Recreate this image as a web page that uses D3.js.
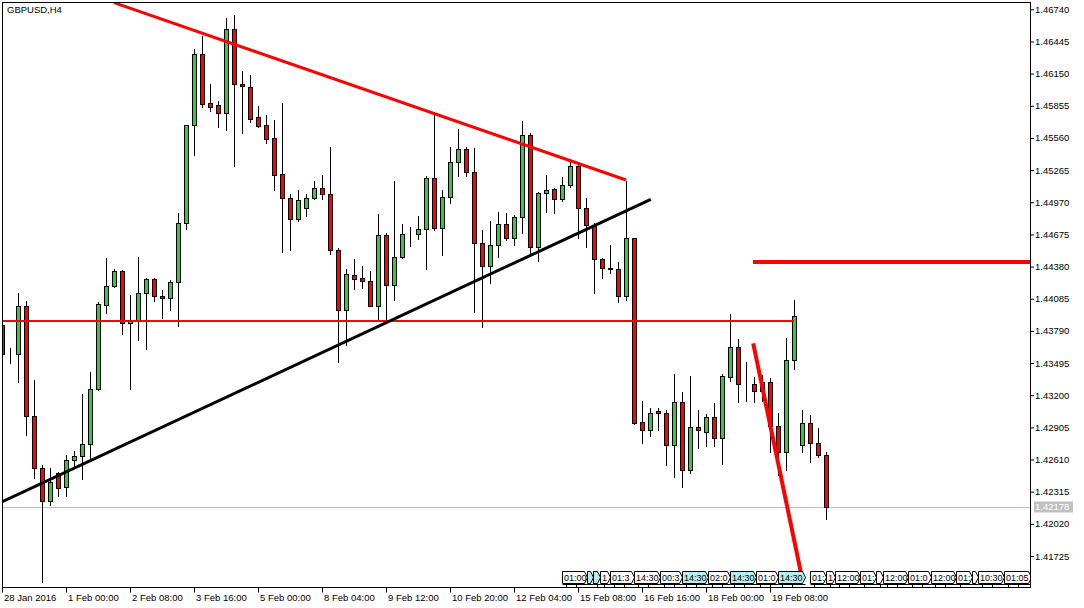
<!DOCTYPE html>
<html><head><meta charset="utf-8">
<script src="https://cdn.jsdelivr.net/npm/d3@7"></script>
<style>
html,body{margin:0;padding:0;background:#fff;overflow:hidden;}
svg{display:block;font-family:"Liberation Sans",Arial,sans-serif;}
</style></head><body>
<svg id="chart" width="1084" height="608"></svg>
<script>
// ---------------- DATA ----------------
const chartTitle = "GBPUSD,H4";
const opens = [1.43844,1.43575,1.43575,1.44016,1.43007,1.42535,1.42227,1.42484,1.42355,1.42603,
1.42640,1.42750,1.43254,1.44025,1.44199,1.44339,1.43860,1.43887,1.44135,1.44263,
1.44107,1.44089,1.44236,1.44777,1.45676,1.46327,1.45878,1.45859,1.45786,1.46557,
1.46052,1.46025,1.45749,1.45676,1.45557,1.45226,1.45006,1.44814,1.44915,1.45006,
1.45098,1.45043,1.44529,1.43979,1.44300,1.44272,1.44245,1.44016,1.44667,1.44208,
1.44465,1.44676,1.44676,1.44722,1.45190,1.44731,1.45016,1.45337,1.45456,1.45245,
1.44594,1.44383,1.44575,1.44768,1.44639,1.44832,1.45584,1.44557,1.45052,1.45089,
1.44997,1.45126,1.45300,1.44915,1.44759,1.44447,1.44364,1.44355,1.44107,1.44639,
1.42952,1.42878,1.43052,1.43034,1.42741,1.43135,1.42511,1.42906,1.42860,1.42997,
1.42805,1.43364,1.43640,1.43300,1.43300,1.43236,1.43319,1.42915,1.42676,1.43520,
1.42741,1.42942,1.42759,1.42649];
const highs = [1.43872,1.43630,1.44140,1.44064,1.43340,1.42557,1.42530,1.42496,1.42652,1.42686,
1.43211,1.43410,1.44052,1.44461,1.44361,1.44344,1.44117,1.44468,1.44278,1.44271,
1.44165,1.44257,1.44869,1.45679,1.46373,1.46495,1.46055,1.45899,1.46660,1.46688,
1.46174,1.46135,1.45850,1.45770,1.45725,1.45878,1.45043,1.45080,1.45043,1.45162,
1.45217,1.45474,1.44548,1.44355,1.44447,1.44383,1.44337,1.44860,1.44685,1.45162,
1.44768,1.44740,1.44841,1.45211,1.45798,1.45082,1.45477,1.45642,1.45477,1.45468,
1.44716,1.44798,1.44881,1.44872,1.44853,1.45715,1.45603,1.45060,1.45217,1.45098,
1.45199,1.45364,1.45337,1.45006,1.44777,1.44456,1.44575,1.44419,1.45168,1.44642,
1.43144,1.43080,1.43080,1.43062,1.43392,1.43227,1.43376,1.43062,1.43025,1.43126,
1.43392,1.43942,1.43713,1.43502,1.43364,1.43383,1.43355,1.43034,1.43722,1.44071,
1.43062,1.43016,1.42897,1.42676];
const lows = [1.43560,1.43498,1.43324,1.42838,1.42443,1.41489,1.42196,1.42278,1.42278,1.42544,
1.42429,1.42606,1.43248,1.43957,1.44190,1.43759,1.43260,1.43707,1.43627,1.44067,
1.43911,1.43982,1.43838,1.44722,1.45401,1.45847,1.45810,1.45663,1.45630,1.45300,
1.45608,1.45703,1.45658,1.45511,1.45080,1.44516,1.44535,1.44801,1.44847,1.45000,
1.44997,1.44493,1.43502,1.43658,1.44172,1.44181,1.44014,1.43896,1.43869,1.44071,
1.44459,1.44566,1.44630,1.44355,1.44711,1.44489,1.44966,1.45214,1.45214,1.43966,
1.43829,1.44232,1.44471,1.44621,1.44581,1.44691,1.44495,1.44434,1.44883,1.44874,
1.44984,1.45113,1.44639,1.44562,1.44135,1.44272,1.44318,1.44052,1.44071,1.42936,
1.42759,1.42829,1.42878,1.42557,1.42447,1.42355,1.42484,1.42713,1.42731,1.42731,
1.42566,1.43328,1.43135,1.43144,1.43135,1.43144,1.42676,1.42465,1.42511,1.43438,
1.42676,1.42585,1.42630,1.42062];
const closes = [1.43575,1.43577,1.44016,1.43007,1.42535,1.42227,1.42401,1.42346,1.42603,1.42640,
1.42750,1.43254,1.44034,1.44199,1.44339,1.43860,1.43887,1.44135,1.44263,1.44107,
1.44089,1.44236,1.44777,1.45676,1.46327,1.45869,1.45847,1.45786,1.46557,1.46052,
1.46034,1.45731,1.45674,1.45548,1.45217,1.45006,1.44814,1.44988,1.45006,1.45098,
1.45043,1.44529,1.43979,1.44309,1.44263,1.44245,1.44016,1.44667,1.44208,1.44465,
1.44676,1.44677,1.44722,1.45190,1.44731,1.45016,1.45337,1.45456,1.45245,1.44594,
1.44383,1.44575,1.44768,1.44639,1.44832,1.45584,1.44557,1.45052,1.45080,1.44997,
1.45126,1.45300,1.44915,1.44759,1.44447,1.44364,1.44355,1.44107,1.44639,1.42948,
1.42878,1.43034,1.43034,1.42741,1.43135,1.42511,1.42906,1.42878,1.42997,1.42805,
1.43373,1.43640,1.43300,1.43300,1.43236,1.43319,1.42915,1.42676,1.43520,1.43924,
1.42942,1.42759,1.42649,1.42178];

const timeTickBars   = [0, 8, 16, 24, 32, 40, 48, 56, 64, 72, 80, 88, 96];
const timeTickLabels = ["28 Jan 2016","1 Feb 00:00","2 Feb 08:00","3 Feb 16:00","5 Feb 00:00",
  "8 Feb 04:00","9 Feb 12:00","10 Feb 20:00","12 Feb 04:00","15 Feb 08:00","16 Feb 16:00",
  "18 Feb 00:00","19 Feb 08:00"];
const priceTicks = [1.46740,1.46445,1.46150,1.45855,1.45560,1.45265,1.44970,1.44675,1.44380,
  1.44085,1.43790,1.43495,1.43200,1.42905,1.42610,1.42315,1.42020,1.41725];
const bidPrice = 1.42178;

// drawn objects: [bar, price] endpoints
const resistanceTrend = [[14, 1.46801], [78, 1.45174]];
const supportTrend    = [[0, 1.42222], [81.1, 1.44997]];
const levelLine       = [[-2, 1.43884], [99, 1.43884]];
const upperLevel      = [[93.87, 1.44422], [140, 1.44422]];
const steepLine       = [[93.9, 1.43676], [100.05, 1.41506]];

// calendar event markers (bar position of event, label, highlighted)
const eventBars   = [70.05,73.12,73.9,74.7,75.96,78.96,82.2,85.05,88.25,91.05,94.3,96.96,100.96,103.05,104.09,107.2,109.3,110.09,113.2,116.1,119.3,121.3,121.96,125.2];
const eventLabels = ["01:00","14:30","14:30","12:00","01:30","14:30","00:30","14:30","02:00","14:30","01:00","14:30","01:00","13:00","12:00","01:00","01:00","12:00","01:00","12:00","01:00","01:00","10:30","01:05"];
const eventHot    = [0,1,1,0,0,0,0,1,0,1,0,1,0,0,0,0,0,0,0,0,0,0,0,0];

// ---------------- DRAW ----------------
const L = 2, R = 1030, T = 2, B = 587.5;
const svg = d3.select("#chart");

const x = d3.scaleLinear().domain([0, 103]).range([2, 826]);
const y = d3.scaleLinear().domain([1.41725, 1.46740]).range([556, 9.3]);

svg.append("defs").append("clipPath").attr("id","plot")
  .append("rect").attr("x", L+1).attr("y", T+1).attr("width", R-L-1).attr("height", B-T-1);

const plot = svg.append("g").attr("clip-path","url(#plot)");

// bid line
plot.append("line").attr("x1", L).attr("x2", R)
  .attr("y1", Math.round(y(bidPrice))+0.5).attr("y2", Math.round(y(bidPrice))+0.5)
  .attr("stroke","#c0c0c0").attr("stroke-width",1);

// candles
const bars = d3.range(opens.length);
const cg = plot.append("g");
bars.forEach(i => {
  const cx = x(i);
  const o = opens[i], c = closes[i], h = highs[i], l = lows[i];
  cg.append("line").attr("x1", cx+0.5).attr("x2", cx+0.5)
    .attr("y1", Math.round(y(h))).attr("y2", Math.round(y(l))+1)
    .attr("stroke","#000").attr("stroke-width",1).attr("shape-rendering","crispEdges");
  const top = Math.round(y(Math.max(o,c)));
  const bot = Math.round(y(Math.min(o,c)));
  cg.append("rect").attr("x", cx-1.5).attr("y", top+0.5)
    .attr("width", 4).attr("height", Math.max(0, bot-top))
    .attr("fill", c >= o ? "#32cd32" : "#ff0000")
    .attr("stroke","#000").attr("stroke-width",1).attr("shape-rendering","crispEdges");
});

// objects
const lineGen = d3.line().x(d => x(d[0])).y(d => y(d[1]));
plot.append("path").datum(levelLine).attr("d", lineGen).attr("fill","none")
  .attr("stroke","#ff0000").attr("stroke-width",2).attr("shape-rendering","crispEdges");
plot.append("path").datum(upperLevel).attr("d", lineGen).attr("fill","none")
  .attr("stroke","#ff0000").attr("stroke-width",4).attr("shape-rendering","crispEdges");
plot.append("path").datum(resistanceTrend).attr("d", lineGen).attr("fill","none")
  .attr("stroke","#ff0000").attr("stroke-width",3);
plot.append("path").datum(supportTrend).attr("d", lineGen).attr("fill","none")
  .attr("stroke","#000").attr("stroke-width",3);
plot.append("path").datum(steepLine).attr("d", lineGen).attr("fill","none")
  .attr("stroke","#ff0000").attr("stroke-width",4);

// event boxes
const eTop = 571.5, eBot = 583.5, eNatural = 27;
const eg = plot.append("g");
eventBars.forEach((b, i) => {
  const x0 = Math.round(x(b)) + 0.5;
  const nextX = i < eventBars.length-1 ? Math.round(x(eventBars[i+1])) + 0.5 : 1e9;
  const x1 = Math.min(x0 + eNatural, nextX);
  const mid = (eTop + eBot)/2;
  eg.append("path")
    .attr("d", `M${x0},${eTop}H${x1-3}L${x1},${mid}L${x1-3},${eBot}H${x0}Z`)
    .attr("fill", eventHot[i] ? "#b4eeee" : "#ffffff")
    .attr("stroke","#000").attr("stroke-width",1);
  const t = eg.append("text").attr("x", x0+1.5).attr("y", eBot-2.5)
    .attr("font-size", "9px").attr("fill","#000").text(eventLabels[i]);
  // truncate the label to the visible part of its box (as the terminal does)
  const avail = x1 - x0 - 2;
  let s = eventLabels[i];
  while (s.length > 0 && t.node().getComputedTextLength() > avail) {
    s = s.slice(0, -1);
    t.text(s);
  }
  if (s.length === 0) t.remove();
  eg.append("line").attr("x1", x0).attr("x2", x1).attr("y1", eBot+1).attr("y2", eBot+1)
    .attr("stroke","#000").attr("stroke-width",1);
  [4, 14].forEach(dx => {
    if (x0 + dx < x1 - 2) eg.append("line").attr("x1", x0+dx).attr("x2", x0+dx)
      .attr("y1", eBot+1).attr("y2", eBot+3.5).attr("stroke","#000").attr("stroke-width",1);
  });
});

// frame
svg.append("path")
  .attr("d", `M${L+0.5},${T+0.5}H${R+0.5}V${B}H${L+0.5}Z`)
  .attr("fill","none").attr("stroke","#000").attr("stroke-width",1)
  .attr("shape-rendering","crispEdges");

// price axis
const yAxis = d3.axisRight(y).tickValues(priceTicks).tickSize(4).tickPadding(1)
  .tickFormat(d3.format(".5f"));
const ya = svg.append("g").attr("transform", `translate(${R},0)`).call(yAxis);
ya.select(".domain").remove();
ya.selectAll("text").attr("font-size","9.5px").attr("font-family","Liberation Sans, Arial, sans-serif").attr("fill","#000");
ya.selectAll("line").attr("stroke","#000");

// bid label
const by = y(bidPrice);
svg.append("rect").attr("x", R+4).attr("y", Math.round(by)-5.5).attr("width", 39).attr("height", 11)
  .attr("fill","#c0c0c0");
svg.append("text").attr("x", R+5).attr("y", by).attr("dy","0.35em")
  .attr("font-size","9.5px").attr("fill","#fff").text(d3.format(".5f")(bidPrice));

// time axis
const xAxis = d3.axisBottom(x).tickValues(timeTickBars).tickSize(5).tickPadding(2)
  .tickFormat((d,i) => timeTickLabels[i]);
const xa = svg.append("g").attr("transform", `translate(0,${B})`).call(xAxis);
xa.select(".domain").remove();
xa.selectAll("text").attr("text-anchor","start").attr("dx","1.5")
  .attr("font-size","9.5px").attr("font-family","Liberation Sans, Arial, sans-serif").attr("fill","#000");
xa.selectAll("line").attr("stroke","#000");

// title
svg.append("text").attr("x", 7).attr("y", 12.7).attr("font-size","9.5px").attr("fill","#000").text(chartTitle);
</script>
</body></html>
